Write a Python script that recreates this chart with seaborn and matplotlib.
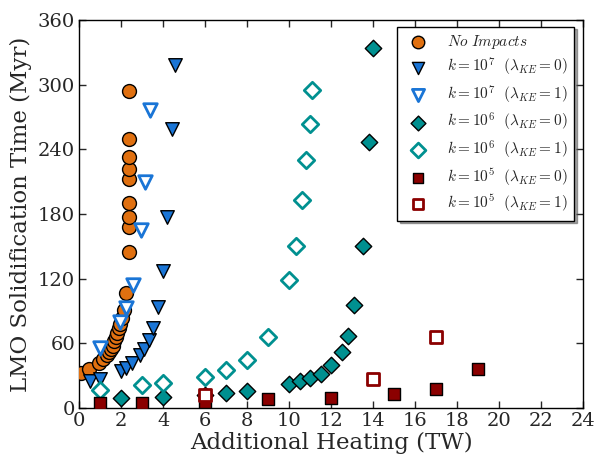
import numpy as np
import matplotlib
matplotlib.use("Agg")
import matplotlib.pyplot as plt
import seaborn as sns

# values (x: TW, y: Myr)
no_impacts_x = [0.1, 0.45, 0.95, 1.15, 1.3, 1.4, 1.5, 1.6, 1.68, 1.75, 1.82, 1.88,
                1.95, 2.05, 2.15, 2.25, 2.35, 2.35, 2.35, 2.35, 2.35, 2.35, 2.35, 2.35, 2.35]
no_impacts_y = [33, 36, 42, 46, 49, 52, 55, 58, 62, 66, 70, 74,
                78, 84, 91, 107, 145, 168, 177, 190, 213, 222, 233, 250, 294]

k7_ke0_x = [0.5, 1.0, 2.0, 2.25, 2.5, 2.9, 3.1, 3.3, 3.5, 3.75, 4.0, 4.2, 4.4, 4.55]
k7_ke0_y = [25, 27, 34, 37, 42, 49, 55, 63, 74, 94, 127, 177, 259, 318]

k7_ke1_x = [1.0, 1.95, 2.25, 2.55, 2.95, 3.15, 3.35]
k7_ke1_y = [56, 80, 93, 114, 165, 210, 277]

k6_ke0_x = [2, 4, 6, 7, 8, 10, 10.5, 11, 11.5, 12, 12.5, 12.8, 13.1, 13.5, 13.8, 14]
k6_ke0_y = [9, 10, 12, 14, 16, 22, 25, 28, 32, 40, 52, 67, 96, 150, 247, 334]

k6_ke1_x = [1, 3, 4, 6, 7, 8, 9, 10, 10.3, 10.6, 10.8, 11, 11.1]
k6_ke1_y = [17, 21, 23, 29, 35, 45, 66, 119, 150, 193, 230, 264, 295]

k5_ke0_x = [1, 3, 6, 9, 12, 15, 17, 19]
k5_ke0_y = [5, 5, 6, 8, 9, 13, 18, 36]

k5_ke1_x = [6, 14, 17]
k5_ke1_y = [12, 27, 66]

sns.set_style("ticks")
plt.rcParams["font.family"] = ["DejaVu Serif"]
plt.rcParams["mathtext.fontset"] = "cm"
plt.rcParams["xtick.direction"] = "in"
plt.rcParams["ytick.direction"] = "in"

fig, ax = plt.subplots(figsize=(6, 4.58), dpi=100)
fig.subplots_adjust(left=0.132, right=0.972, bottom=0.109, top=0.956)

orange = "#e07010"
blue = "#1a75d6"
teal = "#009090"
dred = "#8b0000"

series = [
    (no_impacts_x, no_impacts_y, "o", orange, True, 100, r"$No\ Impacts$"),
    (k7_ke0_x, k7_ke0_y, "v", blue, True, 95, r"$k=10^7\ \ (\lambda_{KE}=0)$"),
    (k7_ke1_x, k7_ke1_y, "v", blue, False, 95, r"$k=10^7\ \ (\lambda_{KE}=1)$"),
    (k6_ke0_x, k6_ke0_y, "D", teal, True, 70, r"$k=10^6\ \ (\lambda_{KE}=0)$"),
    (k6_ke1_x, k6_ke1_y, "D", teal, False, 70, r"$k=10^6\ \ (\lambda_{KE}=1)$"),
    (k5_ke0_x, k5_ke0_y, "s", dred, True, 70, r"$k=10^5\ \ (\lambda_{KE}=0)$"),
    (k5_ke1_x, k5_ke1_y, "s", dred, False, 70, r"$k=10^5\ \ (\lambda_{KE}=1)$"),
]

for xs, ys, mk, col, filled, size, lab in series:
    if filled:
        sns.scatterplot(x=xs, y=ys, marker=mk, s=size, color=col,
                        edgecolor="black", linewidth=1.0, label=lab, ax=ax, zorder=3)
    else:
        sns.scatterplot(x=xs, y=ys, marker=mk, s=size, facecolor="white",
                        edgecolor=col, linewidth=2.0, label=lab, ax=ax, zorder=3)

ax.set_xlim(0, 24)
ax.set_ylim(0, 360)
ax.set_xticks(np.arange(0, 25, 2))
ax.set_yticks(np.arange(0, 361, 60))
ax.tick_params(axis="both", which="both", top=True, right=True, labelsize=14,
               length=5, width=1, pad=3)
for sp in ax.spines.values():
    sp.set_color("black")
    sp.set_linewidth(1.0)

ax.set_xlabel("Additional Heating (TW)", fontsize=16.5, labelpad=1)
ax.set_ylabel("LMO Solidification Time (Myr)", fontsize=16.5)

leg = ax.legend(loc="upper right", fontsize=11, shadow=True, fancybox=False,
                framealpha=1, edgecolor="black", borderpad=0.4,
                handletextpad=0.9, labelspacing=0.35, markerscale=0.9,
                bbox_to_anchor=(0.997, 1.003))
leg.get_frame().set_linewidth(1.0)
leg.set_zorder(10)

plt.savefig("out.png", dpi=100)
